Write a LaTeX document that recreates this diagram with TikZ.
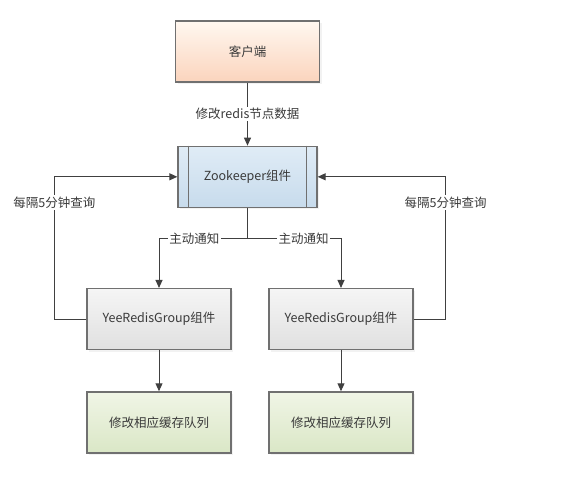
\documentclass[tikz,border=0pt]{standalone}
\usepackage{fontspec}
\setmainfont{Noto Sans CJK SC}
\usepackage{tikz}
\usetikzlibrary{arrows.meta,positioning,shadows}

\definecolor{linegray}{HTML}{404040}
\definecolor{boxgray}{HTML}{707070}
\definecolor{textgray}{HTML}{3A3A3A}

\begin{document}
\begin{tikzpicture}[node distance=63pt,
        every node/.style={font=\fontsize{12.5}{15}\selectfont, text=textgray},
        box/.style={draw=boxgray, line width=1.3pt, align=center, minimum width=144pt, minimum height=61pt,
          drop shadow={opacity=0.1, shadow xshift=2pt, shadow yshift=-2pt}},
        clientbox/.style={box, top color=orange!6!white, bottom color={rgb,255:red,251;green,212;blue,189}},
        zoobox/.style={box, minimum width=139pt, top color={rgb,255:red,224;green,236;blue,246}, bottom color={rgb,255:red,199;green,219;blue,236}},
        groupbox/.style={box, top color={rgb,255:red,245;green,245;blue,245}, bottom color={rgb,255:red,224;green,224;blue,224}},
        queuebox/.style={box, top color={rgb,255:red,240;green,245;blue,230}, bottom color={rgb,255:red,218;green,231;blue,198}},
        lbl/.style={fill=white, inner sep=1.5pt},
        arr/.style={-{Triangle[length=8pt, width=7pt]}, line width=1pt, draw=linegray}]
        \useasboundingbox (0,0) rectangle (580pt,-483pt);
        \node[clientbox] (client) at (247.5pt,-51.5pt) {客户端};
        \node[zoobox, below=of client] (zoo) {Zookeeper组件};
        \draw[draw=boxgray, line width=1pt] ([xshift=11pt]zoo.north west) -- ([xshift=11pt]zoo.south west);
        \draw[draw=boxgray, line width=1pt] ([xshift=-11pt]zoo.north east) -- ([xshift=-11pt]zoo.south east);
        \node[groupbox, below=80pt of zoo, xshift=-88.5pt] (groupL) {YeeRedisGroup组件};
        \node[groupbox, below=80pt of zoo, xshift=93.5pt] (groupR) {YeeRedisGroup组件};
        \node[queuebox, below=41pt of groupL] (queueL) {修改相应缓存队列};
        \node[queuebox, below=41pt of groupR] (queueR) {修改相应缓存队列};
        \coordinate[below=31pt of zoo.south] (split);
        \draw[arr] (client) -- node[lbl] {修改redis节点数据} (zoo);
        \draw[line width=1pt, draw=linegray] (zoo.south) -- (split);
        \draw[arr] (split) -| node[lbl, pos=0.3] {主动通知} (groupL);
        \draw[arr] (split) -| node[lbl, pos=0.3] {主动通知} (groupR);
        \draw[arr] (groupL.west) -- ++(-32pt,0) |- node[lbl, pos=0.41] {每隔5分钟查询} (zoo.west);
        \draw[arr] (groupR.east) -- ++(32pt,0) |- node[lbl, pos=0.41] {每隔5分钟查询} (zoo.east);
        \draw[arr] (groupL) -- (queueL);
        \draw[arr] (groupR) -- (queueR);
      \end{tikzpicture}
\end{document}
